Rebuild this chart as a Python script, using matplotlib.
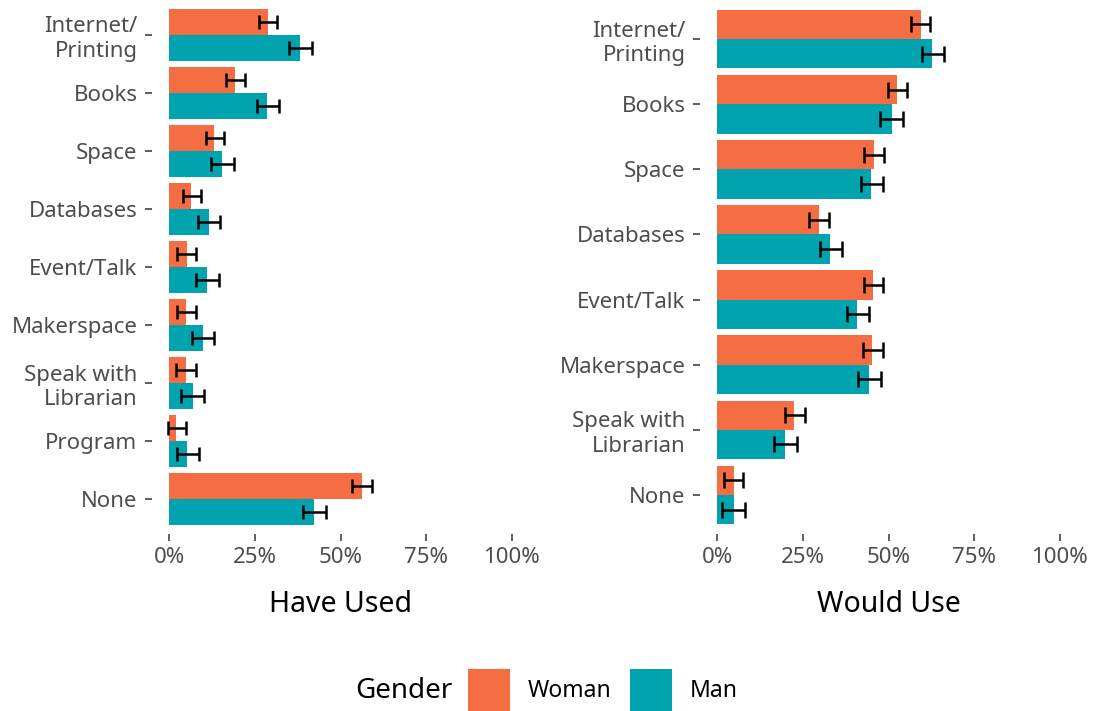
import matplotlib
matplotlib.use("Agg")
import matplotlib.pyplot as plt
from matplotlib.patches import Patch
from matplotlib.ticker import FuncFormatter
import numpy as np

plt.rcParams['font.family'] = ['Noto Sans', 'DejaVu Sans']

# ---- data (percent) ----
used_cats = ["Internet/\nPrinting", "Books", "Space", "Databases", "Event/Talk",
             "Makerspace", "Speak with\nLibrarian", "Program", "None"]
used_woman = [28.8, 19.2, 13.2, 6.5, 5.2, 5.0, 4.8, 2.1, 56.3]
used_woman_lo = [26.3, 16.5, 10.7, 4.0, 2.3, 2.2, 2.0, -0.3, 53.4]
used_woman_hi = [31.6, 22.2, 16.1, 9.4, 7.9, 7.9, 7.7, 5.0, 59.1]
used_man = [38.3, 28.6, 15.5, 11.6, 11.0, 9.8, 6.9, 5.3, 42.4]
used_man_lo = [35.0, 25.5, 12.2, 8.3, 7.9, 6.8, 3.6, 2.2, 39.1]
used_man_hi = [41.7, 32.1, 18.8, 14.9, 14.5, 13.2, 10.1, 8.8, 45.7]

would_cats = ["Internet/\nPrinting", "Books", "Space", "Databases", "Event/Talk",
              "Makerspace", "Speak with\nLibrarian", "None"]
would_woman = [59.4, 52.4, 45.7, 29.6, 45.5, 45.3, 22.5, 4.8]
would_woman_lo = [56.7, 49.8, 42.9, 26.9, 42.8, 42.6, 19.7, 2.0]
would_woman_hi = [62.1, 55.4, 48.7, 32.5, 48.4, 48.3, 25.6, 7.5]
would_man = [62.8, 51.0, 45.0, 33.0, 40.8, 44.3, 19.9, 4.8]
would_man_lo = [59.7, 47.6, 41.9, 29.9, 37.8, 41.0, 16.5, 1.5]
would_man_hi = [66.2, 54.2, 48.4, 36.5, 44.3, 47.7, 23.4, 8.1]

groups = ["Woman", "Man"]
colors = {"Woman": "#F46D43", "Man": "#00A3AE"}
xticks = [0, 25, 50, 75, 100]

W, H = 1094, 711
fig = plt.figure(figsize=(W / 100, H / 100), dpi=100)

def panel(rect, cats, wv, wlo, whi, mv, mlo, mhi, title, capsize):
    ax = fig.add_axes(rect)
    n = len(cats)
    y = np.arange(n)
    bh = 0.45
    for vals, lo, hi, g, off in [(wv, wlo, whi, "Woman", -bh / 2), (mv, mlo, mhi, "Man", bh / 2)]:
        vals = np.array(vals); lo = np.array(lo); hi = np.array(hi)
        ax.barh(y + off, vals, height=bh, color=colors[g], linewidth=0)
        ax.errorbar((lo + hi) / 2, y + off, xerr=(hi - lo) / 2, fmt='none',
                    ecolor='black', elinewidth=1.8, capsize=capsize, capthick=1.8)
    ax.set_xlim(-5, 105)
    ax.set_ylim(n - 1 + 0.6, -0.6)
    ax.set_yticks(y)
    ax.set_yticklabels(cats, linespacing=1.2)
    ax.set_xticks(xticks)
    ax.xaxis.set_major_formatter(FuncFormatter(lambda v, p: f"{int(v)}%"))
    for s in ax.spines.values():
        s.set_visible(False)
    ax.tick_params(axis='both', length=5, width=1.1, color='#333333',
                   labelcolor='#4D4D4D', labelsize=16)
    ax.tick_params(axis='y', pad=5.5)
    ax.tick_params(axis='x', pad=4.5)
    ax.set_xlabel(title, fontsize=20.5, color='black', labelpad=16)
    return ax

panel([152 / W, 1 - 534 / H, 377 / W, 534 / H], used_cats, used_woman, used_woman_lo,
      used_woman_hi, used_man, used_man_lo, used_man_hi, "Have Used", 5)
panel([700 / W, 1 - 534 / H, 377 / W, 534 / H], would_cats, would_woman, would_woman_lo,
      would_woman_hi, would_man, would_man_lo, would_man_hi, "Would Use", 5.8)

handles = [Patch(facecolor=colors[g], edgecolor='none') for g in groups]
fig.legend(handles, groups, loc='center left', bbox_to_anchor=(468 / W, 1 - 690 / H),
           ncol=2, frameon=False, fontsize=16.5, handlelength=1.83, handleheight=2.445,
           handletextpad=0.79, columnspacing=0.79, borderaxespad=0, borderpad=0)
fig.text(355 / W, 1 - 691 / H, "Gender", fontsize=20, ha='left', va='center')

fig.savefig("out.png", dpi=100)
